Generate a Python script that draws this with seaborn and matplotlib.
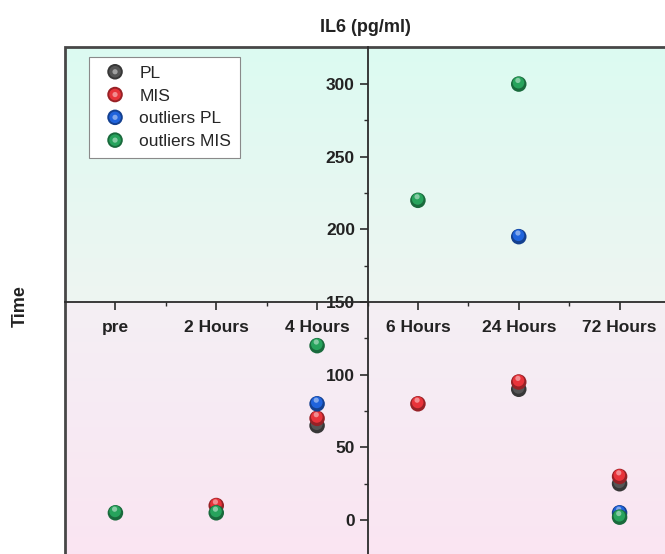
import numpy as np
import pandas as pd
import matplotlib
matplotlib.use("Agg")
import matplotlib.pyplot as plt
import matplotlib.transforms as mtransforms
from matplotlib.colors import to_rgb
from matplotlib.patches import Rectangle
from matplotlib.legend_handler import HandlerTuple
import seaborn as sns

# values
time_labels = ["pre", "2 Hours", "4 Hours", "6 Hours", "24 Hours", "72 Hours"]
pl_values = [np.nan, np.nan, 65, np.nan, 90, 25]
mis_values = [np.nan, 10, 70, 80, 95, 30]
outliers_pl_values = [np.nan, np.nan, 80, np.nan, 195, 5]
outliers_mis_values = [5, 5, 120, 220, 300, 2]

series_names = ["PL", "MIS", "outliers PL", "outliers MIS"]
series_values = [pl_values, mis_values, outliers_pl_values, outliers_mis_values]
series_colors = ["#555555", "#e8333a", "#1f63dc", "#27a35c"]


def mix(col, other, t):
    a = np.array(to_rgb(col))
    b = np.array(to_rgb(other))
    return tuple(a * (1 - t) + b * t)


sns.set_theme(style="white")
plt.rcParams['font.family'] = ['Liberation Sans', 'DejaVu Sans']

fig = plt.figure(figsize=(6.65, 5.54), dpi=100)
# axes runs past the bottom and right edge of the picture, like the reference
ax = fig.add_axes([65 / 665, (554 - 578.2) / 554, 605 / 665, 531.2 / 554])

xmin, xmax = -0.5, 5.5
ymin, ymax = -40, 325.5
split = 150

# background gradients
n = 60
t = np.linspace(0, 1, n)
top_img = np.array([mix("#eef5f2", "#dcfbf1", v) for v in t])[:, None, :]
bot_img = np.array([mix("#fbe4f2", "#f4eff4", v) for v in t])[:, None, :]
ax.imshow(top_img, extent=(xmin, xmax, split, ymax), origin="lower",
          aspect="auto", zorder=0, interpolation="bilinear")
ax.imshow(bot_img, extent=(xmin, xmax, ymin, split), origin="lower",
          aspect="auto", zorder=0, interpolation="bilinear")

positions = np.arange(len(time_labels))
mid_shift = mtransforms.offset_copy(ax.transData, fig=fig, x=-0.2, y=1.0, units="points")
hi_shift = mtransforms.offset_copy(ax.transData, fig=fig, x=-0.6, y=2.6, units="points")

handles = []
for i, (name, vals, col) in enumerate(zip(series_names, series_values, series_colors)):
    df = pd.DataFrame({"time": positions, "IL6": vals}).dropna()
    z = 4 + i * 3
    sns.scatterplot(data=df, x="time", y="IL6", ax=ax, color=mix(col, "black", 0.35),
                    s=125, edgecolor="none", linewidth=0, zorder=z, legend=False)
    base = ax.collections[-1]
    sns.scatterplot(data=df, x="time", y="IL6", ax=ax, color=col,
                    s=70, edgecolor="none", linewidth=0, zorder=z + 1,
                    transform=mid_shift, legend=False)
    mid = ax.collections[-1]
    sns.scatterplot(data=df, x="time", y="IL6", ax=ax, color=mix(col, "white", 0.55),
                    s=14, edgecolor="none", linewidth=0, zorder=z + 2, alpha=0.8,
                    transform=hi_shift, legend=False)
    hi = ax.collections[-1]
    handles.append((base, mid, hi))

ax.set_xlim(xmin, xmax)
ax.set_ylim(ymin, ymax)
ax.set_xlabel("")
ax.set_ylabel("")

# crossed axes
ax.spines['left'].set_position(('data', 2.5))
ax.spines['bottom'].set_position(('data', split))
for side in ['left', 'bottom']:
    ax.spines[side].set_color("#2b2b2b")
    ax.spines[side].set_linewidth(1.3)
    ax.spines[side].set_zorder(3)
ax.spines['top'].set_visible(False)
ax.spines['right'].set_visible(False)
ax.add_patch(Rectangle((0, 0), 1, 1, transform=ax.transAxes, fill=False,
                       edgecolor="#474747", linewidth=2, clip_on=False, zorder=3))

ax.set_xticks(positions)
ax.set_xticklabels(time_labels, fontsize=12.5, fontweight="bold", color="#222222")
ax.set_xticks(positions[:-1] + 0.5, minor=True)
ax.set_yticks(np.arange(0, 301, 50))
ax.set_yticklabels([str(v) for v in np.arange(0, 301, 50)], fontsize=12.5,
                   fontweight="bold", color="#222222")
ax.set_yticks(np.arange(25, 300, 50), minor=True)
ax.tick_params(axis="both", which="both", direction="out", color="#2b2b2b",
               bottom=True, left=True, top=False, right=False)
ax.tick_params(axis="both", which="major", length=6, width=1.2)
ax.tick_params(axis="both", which="minor", length=3, width=1.0)
ax.tick_params(axis="x", which="major", pad=7)
ax.tick_params(axis="y", which="major", pad=3)

leg = ax.legend(handles, series_names, handler_map={tuple: HandlerTuple(ndivide=1, pad=0)},
                loc="upper left", bbox_to_anchor=(89 / 665, 1 - 57 / 554),
                bbox_transform=fig.transFigure, borderaxespad=0, fontsize=12.5,
                frameon=True, fancybox=False, framealpha=1, facecolor="white",
                edgecolor="#8a8a8a", handlelength=2.0, handletextpad=0.4,
                borderpad=0.5, labelspacing=0.44, scatterpoints=1,
                scatteryoffsets=[0.5])
leg.get_frame().set_linewidth(0.8)
leg.set_zorder(20)

fig.text(365 / 665, 1 - 28 / 554, "IL6 (pg/ml)", ha="center", va="center",
         fontsize=13, fontweight="bold", color="#222222")
fig.text(20 / 665, 1 - 306 / 554, "Time", ha="center", va="center", rotation=90,
         fontsize=13, fontweight="bold", color="#222222")

fig.savefig("out.png", dpi=100)
